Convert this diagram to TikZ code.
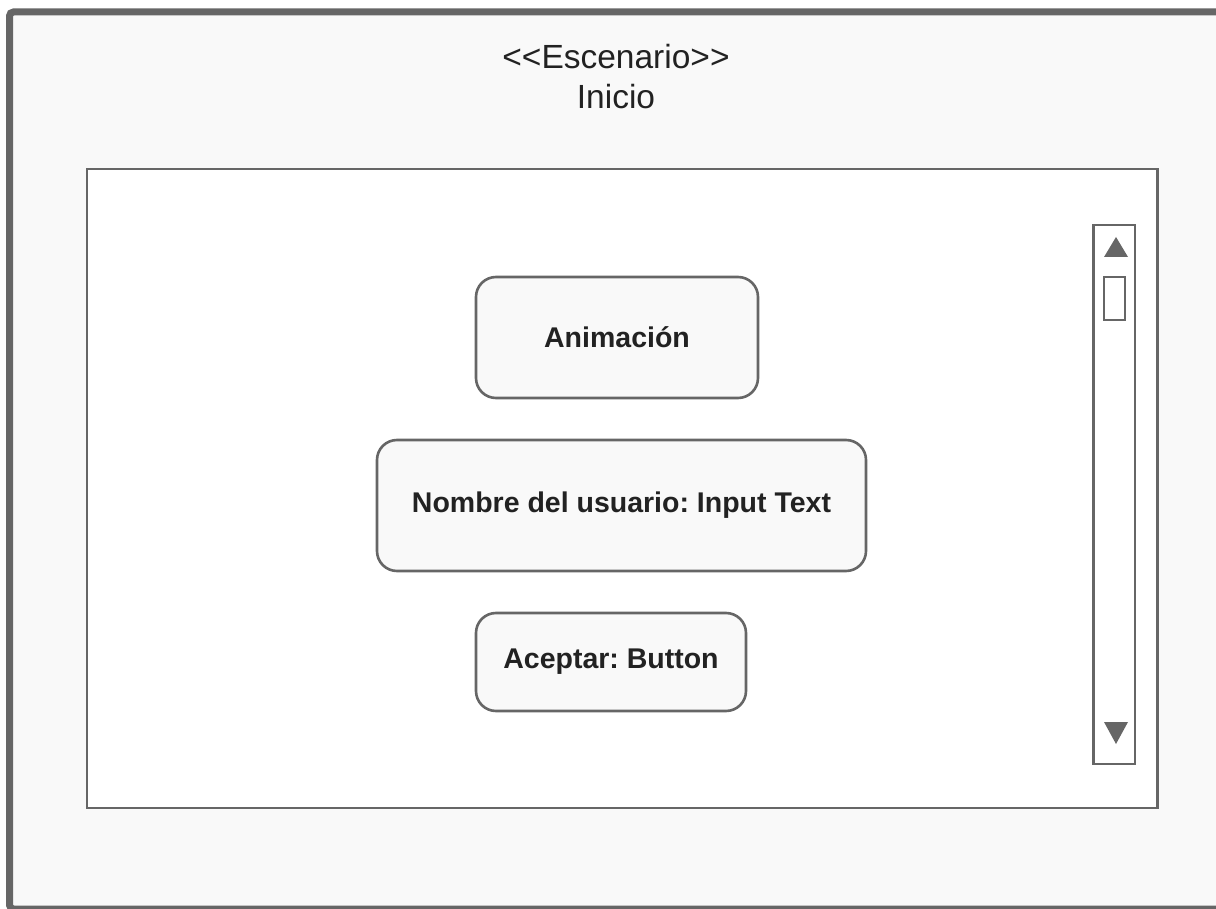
\documentclass[tikz,border=0pt]{standalone}
\usepackage{fontspec}
\setmainfont{Liberation Sans}
\frenchspacing
\definecolor{edge}{HTML}{666666}
\definecolor{paper}{HTML}{F9F9F9}
\definecolor{ink}{HTML}{222222}
\begin{document}
\begin{tikzpicture}[x=1pt,y=-1pt,
  frame/.style={draw=edge,line width=7pt,fill=paper,rounded corners=4pt},
  panel/.style={draw=edge,line width=2.6pt,fill=white},
  widget/.style={draw=edge,line width=2.6pt,fill=paper,rounded corners=20pt,inner sep=0pt,
    font=\fontsize{28.5}{34}\selectfont\bfseries,text=ink},
  title/.style={font=\fontsize{33.5}{40}\selectfont,text=ink,inner sep=0pt},
  sbar/.style={draw=edge,line width=2.6pt,fill=white},
  arrowtri/.style={fill=edge,draw=none}]
\useasboundingbox (0,0) rectangle (1216,909);
\draw[frame] (9.5,12) rectangle (1230,909);
\node[title] (t1) at (616,57) {<{}<Escenario>{}>};
\node[title] (t2) at (616,97) {Inicio};
\draw[panel] (87,169) rectangle (1157.5,808);
\node[widget,minimum width=282pt,minimum height=121pt] (anim) at (617,337.5) {Animación};
\node[widget,minimum width=489pt,minimum height=131pt] (nombre) at (621.5,505.5) {Nombre del usuario: Input Text};
\node[widget,minimum width=270pt,minimum height=98pt] (acept) at (611,662) {Aceptar: Button};
\draw[sbar] (1093.5,225) rectangle (1135,764);
\fill[arrowtri] (1116,237) -- (1128,257) -- (1104,257) -- cycle;
\draw[sbar] (1104,277) rectangle (1125,320);
\fill[arrowtri] (1104,722) -- (1128,722) -- (1116,744) -- cycle;
\end{tikzpicture}
\end{document}
